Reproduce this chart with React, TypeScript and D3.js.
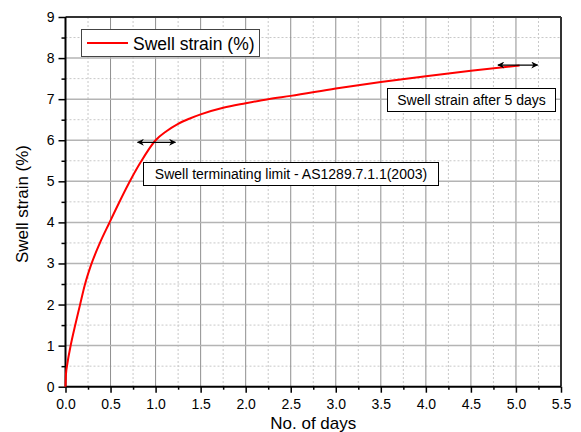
import React, { useEffect, useRef } from "react";
import * as d3 from "d3";

// swell strain curve
const days = [0, 0.005, 0.02, 0.059, 0.11, 0.16, 0.215, 0.28, 0.38, 0.485, 0.59, 0.7, 0.83, 1.0, 1.12, 1.25, 1.38, 1.5, 1.75, 2.0, 2.25, 2.5, 3.0, 3.5, 4.0, 4.5, 5.04];
const strain = [0, 0.3, 0.55, 1.02, 1.52, 1.98, 2.48, 2.94, 3.49, 3.98, 4.46, 4.94, 5.45, 6.0, 6.22, 6.4, 6.53, 6.63, 6.79, 6.9, 7.0, 7.08, 7.26, 7.42, 7.56, 7.69, 7.82];

const xTicks = [0, 0.5, 1.0, 1.5, 2.0, 2.5, 3.0, 3.5, 4.0, 4.5, 5.0, 5.5];
const yTicks = [0, 1, 2, 3, 4, 5, 6, 7, 8, 9];

const legendLabel = "Swell strain (%)";
const note1 = "Swell terminating limit - AS1289.7.1.1(2003)";
const note2 = "Swell strain after 5 days";
// arrow annotations: [x1, x2, y]
const arrow1 = [0.8, 1.22, 5.95];
const arrow2 = [4.8, 5.24, 7.83];

function App() {
  const ref = useRef<SVGSVGElement>(null);

  useEffect(() => {
    const svg = d3.select(ref.current);
    svg.selectAll("*").remove();

    const left = 65.5, right = 561, top = 17, bottom = 386.7;
    const x = d3.scaleLinear().domain([0, 5.5]).range([left, right]);
    const y = d3.scaleLinear().domain([0, 9]).range([bottom, top]);
    const font = "Arial, 'Liberation Sans', sans-serif";

    const defs = svg.append("defs");
    defs.append("marker")
      .attr("id", "arr")
      .attr("viewBox", "0 0 10 10")
      .attr("refX", 9)
      .attr("refY", 5)
      .attr("markerWidth", 9)
      .attr("markerHeight", 7)
      .attr("markerUnits", "userSpaceOnUse")
      .attr("orient", "auto-start-reverse")
      .append("path")
      .attr("d", "M0,0 L10,5 L0,10 L3,5 Z")
      .attr("fill", "#000");

    const g = svg.append("g");

    // minor grid
    const xMinor = d3.range(0.25, 5.5, 0.5);
    const yMinor = d3.range(0.5, 9, 1);
    g.selectAll(".xminor").data(xMinor).enter().append("line")
      .attr("x1", d => x(d)).attr("x2", d => x(d))
      .attr("y1", top).attr("y2", bottom)
      .attr("stroke", "#c8c8c8").attr("stroke-dasharray", "2,2");
    g.selectAll(".yminor").data(yMinor).enter().append("line")
      .attr("y1", d => y(d)).attr("y2", d => y(d))
      .attr("x1", left).attr("x2", right)
      .attr("stroke", "#c8c8c8").attr("stroke-dasharray", "2,2");

    // major grid
    g.selectAll(".xmajor").data(xTicks.slice(1, -1)).enter().append("line")
      .attr("x1", d => x(d)).attr("x2", d => x(d))
      .attr("y1", top).attr("y2", bottom)
      .attr("stroke", "#8f8f8f").attr("stroke-width", 1);
    g.selectAll(".ymajor").data(yTicks.slice(1, -1)).enter().append("line")
      .attr("y1", d => y(d)).attr("y2", d => y(d))
      .attr("x1", left).attr("x2", right)
      .attr("stroke", "#b4b4b4").attr("stroke-width", 1.5);

    // axes
    const xAxis = g.append("g")
      .attr("transform", `translate(0,${bottom})`)
      .call(d3.axisBottom(x).tickValues(xTicks).tickFormat(d3.format(".1f")).tickSize(6).tickPadding(6));
    g.append("g")
      .attr("transform", `translate(0,${bottom})`)
      .call(d3.axisBottom(x).tickValues(xMinor).tickFormat(() => "").tickSize(3))
      .select(".domain").remove();
    const yAxis = g.append("g")
      .attr("transform", `translate(${left},0)`)
      .call(d3.axisLeft(y).tickValues(yTicks).tickSize(7).tickPadding(4));
    g.append("g")
      .attr("transform", `translate(${left},0)`)
      .call(d3.axisLeft(y).tickValues(yMinor).tickFormat(() => "").tickSize(4))
      .select(".domain").remove();

    svg.selectAll(".tick line").attr("stroke", "#000").attr("stroke-width", 1.5);
    [xAxis, yAxis].forEach(a => {
      a.select(".domain").remove();
      a.selectAll("text").attr("font-family", font).attr("font-size", 14).attr("fill", "#000");
    });

    // frame
    g.append("line").attr("x1", left).attr("x2", right).attr("y1", top).attr("y2", top)
      .attr("stroke", "#333").attr("stroke-width", 2);
    g.append("line").attr("x1", right).attr("x2", right).attr("y1", top).attr("y2", bottom)
      .attr("stroke", "#333").attr("stroke-width", 2);
    g.append("line").attr("x1", left).attr("x2", right).attr("y1", bottom).attr("y2", bottom)
      .attr("stroke", "#000").attr("stroke-width", 2);
    g.append("line").attr("x1", left).attr("x2", left).attr("y1", top).attr("y2", bottom)
      .attr("stroke", "#000").attr("stroke-width", 2);

    // curve
    const pts = days.map((d, i) => [d, strain[i]] as [number, number]);
    g.append("path")
      .datum(pts)
      .attr("fill", "none")
      .attr("stroke", "#ff0000")
      .attr("stroke-width", 2)
      .attr("d", d3.line<[number, number]>().x(d => x(d[0])).y(d => y(d[1])).curve(d3.curveMonotoneX));

    // arrows
    [arrow1, arrow2].forEach(a => {
      g.append("line")
        .attr("x1", x(a[0])).attr("x2", x(a[1]))
        .attr("y1", y(a[2])).attr("y2", y(a[2]))
        .attr("stroke", "#000").attr("stroke-width", 1.2)
        .attr("marker-start", "url(#arr)").attr("marker-end", "url(#arr)");
    });

    // annotation boxes
    const box = (bx: number, by: number, bw: number, bh: number, label: string) => {
      g.append("rect").attr("x", bx).attr("y", by).attr("width", bw).attr("height", bh)
        .attr("fill", "#fff").attr("stroke", "#000").attr("stroke-width", 1);
      g.append("text").attr("x", bx + bw / 2).attr("y", by + bh / 2 + 5)
        .attr("text-anchor", "middle").attr("font-family", font).attr("font-size", 14)
        .text(label);
    };
    box(143.5, 162.5, 295, 23, note1);
    box(387.5, 88.5, 168, 23, note2);

    // legend
    g.append("rect").attr("x", 81.5).attr("y", 29.5).attr("width", 178).attr("height", 27)
      .attr("fill", "#fff").attr("stroke", "#444").attr("stroke-width", 1);
    g.append("line").attr("x1", 87).attr("x2", 128).attr("y1", 43).attr("y2", 43)
      .attr("stroke", "#ff0000").attr("stroke-width", 2);
    g.append("text").attr("x", 133).attr("y", 49.5)
      .attr("font-family", font).attr("font-size", 17.5).text(legendLabel);

    // axis titles
    svg.append("text").attr("x", (left + right) / 2).attr("y", 429)
      .attr("text-anchor", "middle").attr("font-family", font).attr("font-size", 17)
      .text("No. of days");
    svg.append("text").attr("transform", "translate(28,204) rotate(-90)")
      .attr("text-anchor", "middle").attr("font-family", font).attr("font-size", 17)
      .text("Swell strain (%)");
  }, []);

  return (
    <svg ref={ref} width={581} height={432}
      style={{ position: "absolute", left: 0, top: 0, background: "#fff" }} />
  );
}

export default App;
